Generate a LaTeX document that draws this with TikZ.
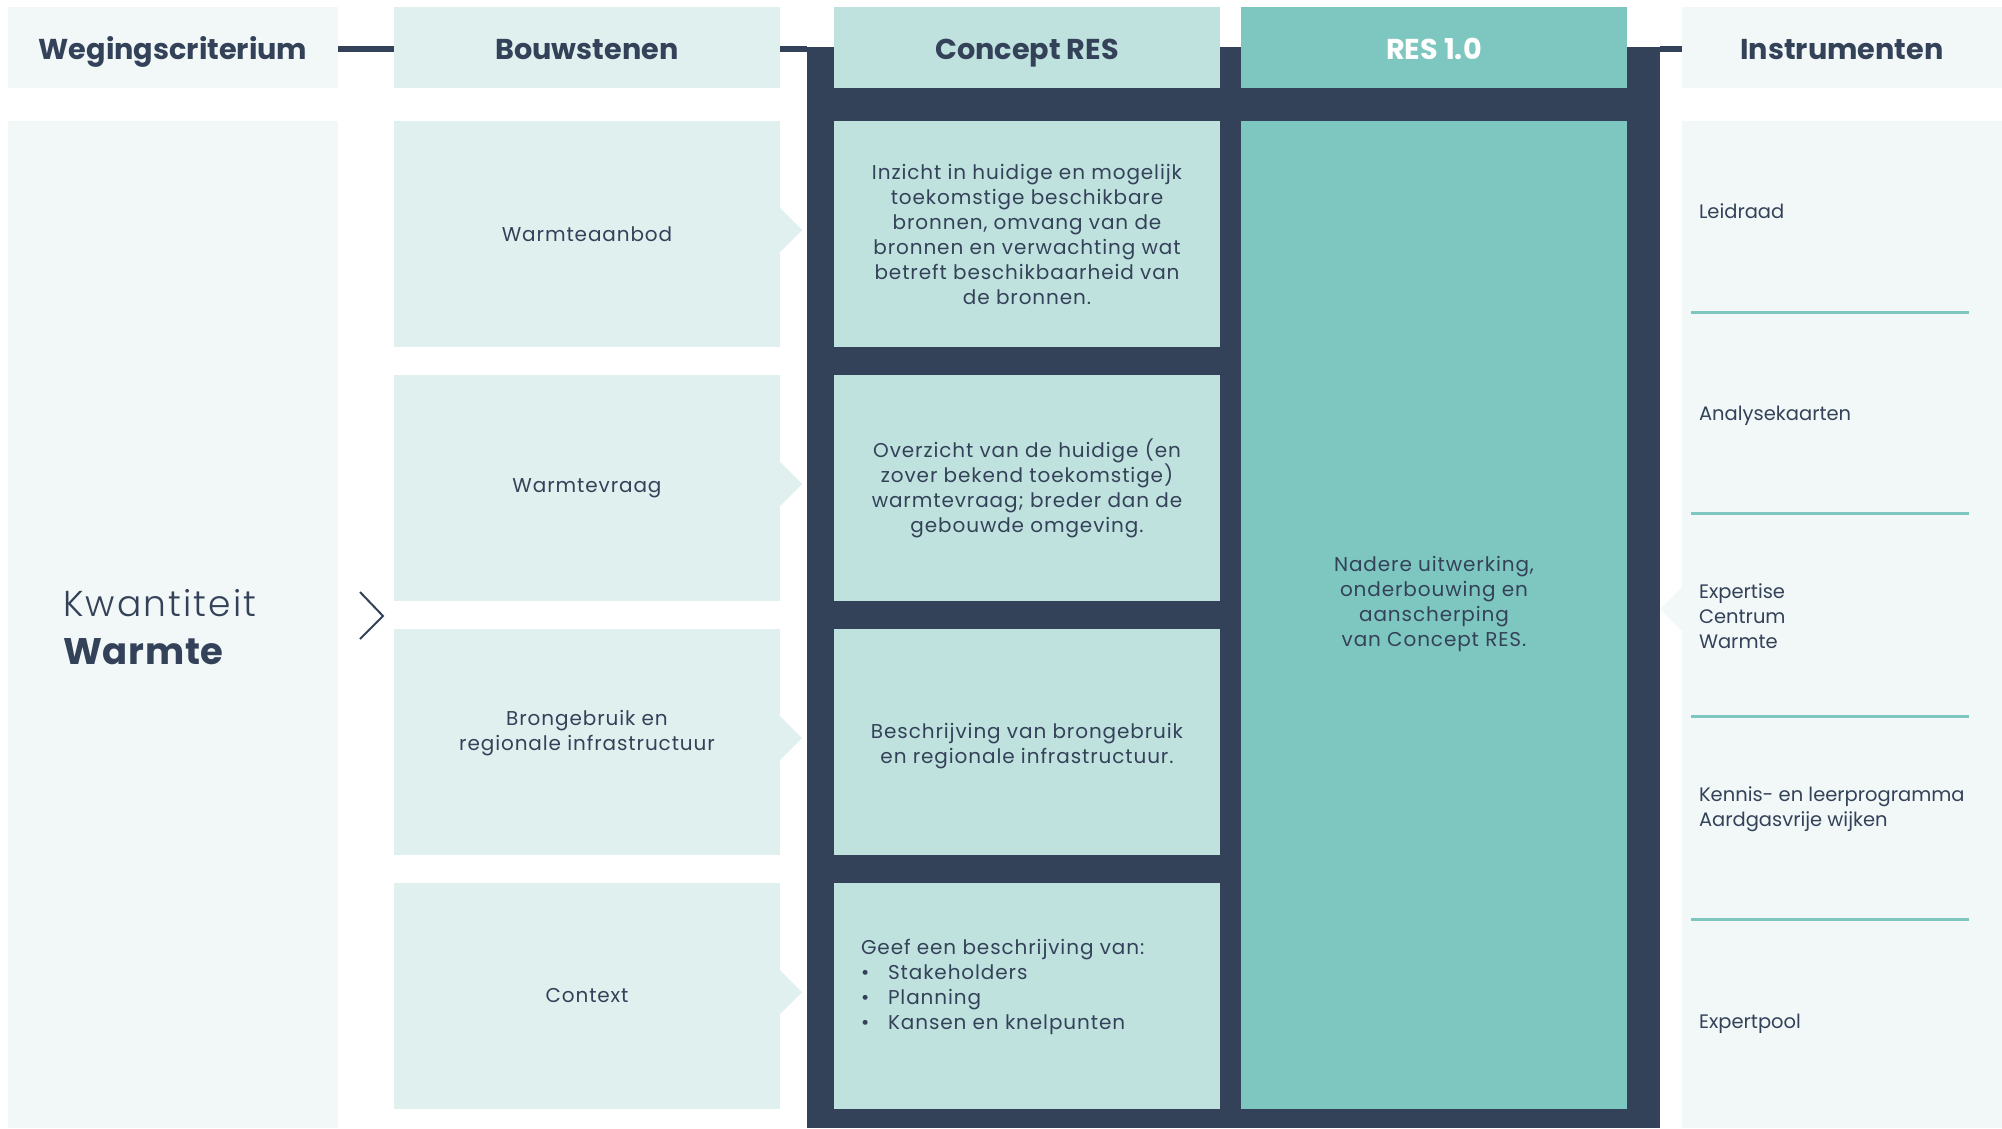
\documentclass[tikz,border=0pt]{standalone}
\usepackage{fontspec}
\setmainfont{Poppins}
\newfontfamily\lightfont{Poppins Light}
\usetikzlibrary{calc}
\definecolor{navy}{HTML}{344259}
\definecolor{palest}{HTML}{F2F8F8}
\definecolor{pale}{HTML}{E0F0EF}
\definecolor{mid}{HTML}{C0E2DF}
\definecolor{teal}{HTML}{7EC7C1}
\newcommand\hdrfont{\fontsize{28.7}{34}\selectfont\bfseries}
\newcommand\bodyfont{\fontsize{20}{25}\selectfont\addfontfeatures{LetterSpace=4.5}}
\newcommand\instfont{\fontsize{19.5}{25}\selectfont}
\begin{document}
\begin{tikzpicture}[x=1pt,y=-1pt,
  every node/.style={inner sep=0pt, outer sep=0pt, text=navy},
  hdr/.style={rectangle, minimum height=81pt, font=\hdrfont, text height=23pt, text depth=0pt},
  cell/.style={rectangle, minimum width=386pt, minimum height=226pt},
  bouwcell/.style={cell, fill=pale},
  conccell/.style={cell, fill=mid},
  body/.style={font=\bodyfont, align=center},
  inst/.style={font=\instfont, anchor=base west, align=left},
  conn/.style={draw=navy, line width=6pt},
  sep/.style={draw=teal, line width=3pt}
]
\useasboundingbox (0,0) rectangle (2002,1128);
\fill[white] (0,0) rectangle (2002,1128);

% dark frame
\node[fill=navy, minimum width=853pt, minimum height=1081pt] (frame) at (1233.5,587.5) {};

% headers
\node[hdr, fill=palest, minimum width=330pt] (weghdr) at (173,47.5) {Wegingscriterium};
\node[hdr, fill=pale, minimum width=386pt] (bouwhdr) at (587,47.5) {Bouwstenen};
\node[hdr, fill=mid, minimum width=386pt] (conchdr) at (1027,47.5) {Concept RES};
\node[hdr, fill=teal, minimum width=386pt, text=white] (reshdr) at (1434,47.5) {RES 1.0};
\node[hdr, fill=palest, minimum width=320pt] (insthdr) at (1842,47.5) {Instrumenten};

% header connectors
\draw[conn] ([yshift=-1.5pt]weghdr.east) -- ([yshift=-1.5pt]bouwhdr.west);
\draw[conn] ([yshift=-1.5pt]bouwhdr.east) -- ([yshift=-1.5pt]bouwhdr.east -| frame.west);
\draw[conn] ([yshift=-1.5pt]insthdr.west -| frame.east) -- ([yshift=-1.5pt]insthdr.west);

% left column
\node[rectangle, fill=palest, minimum width=330pt, minimum height=1007pt] (kw) at (173,624.5) {};
\node[anchor=base west, font=\fontsize{36}{40}\selectfont\lightfont\addfontfeatures{LetterSpace=6}] (kwt) at (63,616) {Kwantiteit};
\node[anchor=base west, font=\fontsize{37}{40}\selectfont\bfseries\addfontfeatures{LetterSpace=2}] (kww) at (63,664) {Warmte};
\draw[navy, line width=2pt] ([xshift=22pt,yshift=32.5pt]kw.east) -- ([xshift=45pt,yshift=8.5pt]kw.east) -- ([xshift=22pt,yshift=-14.5pt]kw.east);

% bouwstenen
\node[bouwcell] (b1) at (587,234) {};
\node[bouwcell] (b2) at (587,488) {};
\node[bouwcell] (b3) at (587,742) {};
\node[bouwcell] (b4) at (587,996) {};
\foreach \b in {b1,b2,b3,b4}{
  \fill[pale] ([yshift=26pt]\b.east) -- ([xshift=22pt,yshift=4pt]\b.east) -- ([yshift=-18pt]\b.east) -- cycle;
}
\node[body] (b1t) at (b1.center) {Warmteaanbod};
\node[body] (b2t) at (b2.center) {Warmtevraag};
\node[body] (b3t) at ([yshift=9pt]b3.center) {Brongebruik en\\regionale infrastructuur};
\node[body] (b4t) at (b4.center) {Context};

% concept RES
\node[conccell] (c1) at (1027,234) {};
\node[conccell] (c2) at (1027,488) {};
\node[conccell] (c3) at (1027,742) {};
\node[conccell] (c4) at (1027,996) {};
\node[body] (c1t) at (c1.center) {Inzicht in huidige en mogelijk\\toekomstige beschikbare\\bronnen, omvang van de\\bronnen en verwachting wat\\betreft beschikbaarheid van\\de bronnen.};
\node[body] (c2t) at (c2.center) {Overzicht van de huidige (en\\zover bekend toekomstige)\\warmtevraag; breder dan de\\gebouwde omgeving.};
\node[body] (c3t) at ([yshift=-4pt]c3.center) {Beschrijving van brongebruik\\en regionale infrastructuur.};
\node[body, align=left, anchor=west] (c4t) at (861,987) {Geef een beschrijving van:\\\makebox[27pt][l]{•}Stakeholders\\\makebox[27pt][l]{•}Planning\\\makebox[27pt][l]{•}Kansen en knelpunten};

% RES 1.0
\node[rectangle, fill=teal, minimum width=386pt, minimum height=988pt] (res) at (1434,615) {};
\node[body] (rest) at (1434,604) {Nadere uitwerking,\\onderbouwing en\\aanscherping\\van Concept RES.};

% instrumenten
\node[rectangle, fill=palest, minimum width=320pt, minimum height=1007pt] (instcol) at (1842,624.5) {};
\fill[palest] ([yshift=37.5pt]instcol.west) -- ([xshift=-22pt,yshift=15.5pt]instcol.west) -- ([yshift=-6.5pt]instcol.west) -- cycle;
\node[inst] (i1) at (1699,218) {Leidraad};
\node[inst] (i2) at (1699,420) {Analysekaarten};
\node[inst] (i3) at (1699,648) {Expertise\\Centrum\\Warmte};
\node[inst] (i4) at (1699,826) {Kennis- en leerprogramma\\Aardgasvrije wijken};
\node[inst] (i5) at (1699,1028) {Expertpool};
\draw[sep] (1691,312) -- (1969,312);
\draw[sep] (1691,513) -- (1969,513);
\draw[sep] (1691,716) -- (1969,716);
\draw[sep] (1691,919) -- (1969,919);
\end{tikzpicture}
\end{document}
